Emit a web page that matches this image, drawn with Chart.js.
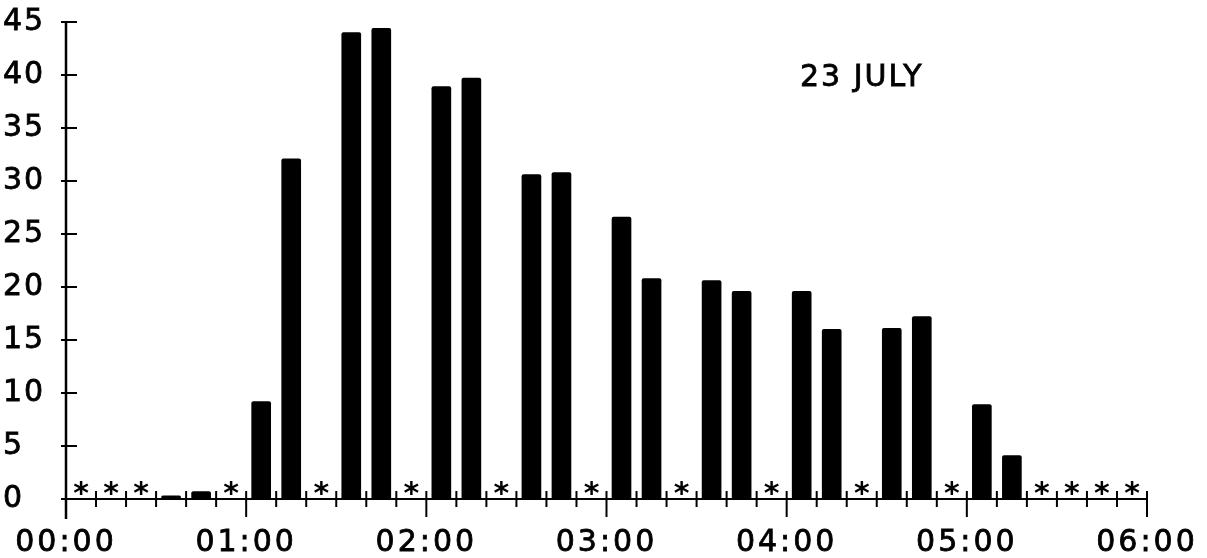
<!DOCTYPE html>
<html>
<head>
<meta charset="utf-8">
<script src="https://cdn.jsdelivr.net/npm/chart.js@4/dist/chart.umd.min.js"></script>
<style>
  html, body { margin: 0; padding: 0; background: #fff; }
  #wrap { width: 1207px; height: 558px; }
</style>
</head>
<body>
<div id="wrap"><canvas id="c" width="1207" height="558"></canvas></div>
<script>
// Ten-minute counting intervals, by start minute after midnight
const intervalStarts = [
  0, 10, 20, 30, 40, 50,
  60, 70, 80, 90, 100, 110,
  120, 130, 140, 150, 160, 170,
  180, 190, 200, 210, 220, 230,
  240, 250, 260, 270, 280, 290,
  300, 310, 320, 330, 340, 350
];
// Count per interval; null = interval not sampled (marked with *)
const counts = [
  null, null, null, 0.3, 0.7, null,
  9.2, 32.1, null, 44.0, 44.4, null,
  38.9, 39.7, null, 30.6, 30.8, null,
  26.6, 20.8, null, 20.6, 19.6, null,
  19.6, 16.0, null, 16.1, 17.2, null,
  8.9, 4.1, null, null, null, null
];
const hourLabels = ['00:00', '01:00', '02:00', '03:00', '04:00', '05:00', '06:00'];
const yTicks = [0, 5, 10, 15, 20, 25, 30, 35, 40, 45];
const dateLabel = '23 JULY';

const FONT = 'DejaVu Sans';
const INK = '#000';

// Axis lines and tick marks that cross the axes, plus the "*" markers and date text
const axesPlugin = {
  id: 'crossAxes',
  beforeDraw(chart) {
    // spacing for the hour labels (drawn before the bars)
    chart.ctx.letterSpacing = '3px';
  },
  afterDatasetsDraw(chart) {
    const ctx = chart.ctx;
    const xs = chart.scales.x, ys = chart.scales.y;
    const x0 = xs.getPixelForValue(0);
    const x1 = xs.getPixelForValue(360);
    const y0 = ys.getPixelForValue(0);
    const yTop = ys.getPixelForValue(45);
    ctx.save();
    ctx.strokeStyle = INK;
    ctx.lineCap = 'butt';

    // vertical axis
    ctx.lineWidth = 2.5;
    ctx.beginPath();
    ctx.moveTo(x0, yTop - 1);
    ctx.lineTo(x0, y0 + 20);
    ctx.stroke();

    // value ticks
    ctx.lineWidth = 2;
    yTicks.forEach(v => {
      const y = ys.getPixelForValue(v);
      ctx.beginPath();
      ctx.moveTo(x0 - 5, y);
      ctx.lineTo(x0 + 11, y);
      ctx.stroke();
    });

    // baseline
    ctx.lineWidth = 2.2;
    ctx.beginPath();
    ctx.moveTo(x0, y0);
    ctx.lineTo(x1, y0);
    ctx.stroke();

    // interval ticks, longer on the hours
    ctx.lineWidth = 2;
    intervalStarts.concat([360]).forEach(m => {
      if (m === 0) return;
      const x = xs.getPixelForValue(m);
      const hour = m % 60 === 0;
      ctx.beginPath();
      ctx.moveTo(x, y0 - 8);
      ctx.lineTo(x, y0 + (hour ? 18 : 8));
      ctx.stroke();
    });

    // "*" for unsampled intervals
    ctx.fillStyle = INK;
    ctx.font = 'bold 30px "' + FONT + '"';
    ctx.textAlign = 'center';
    ctx.textBaseline = 'alphabetic';
    ctx.letterSpacing = '0px';
    const m = ctx.measureText('*');
    const glyphMid = (m.actualBoundingBoxAscent - m.actualBoundingBoxDescent) / 2;
    counts.forEach((c, i) => {
      if (c !== null) return;
      const x = xs.getPixelForValue(intervalStarts[i] + 5);
      const y = ys.getPixelForValue(1);
      ctx.fillText('*', x, y + glyphMid);
    });

    // date
    ctx.font = '30px "' + FONT + '"';
    ctx.letterSpacing = '2px';
    ctx.strokeStyle = INK;
    ctx.lineWidth = 0.8;
    const dm = ctx.measureText('23');
    const capMid = (dm.actualBoundingBoxAscent - dm.actualBoundingBoxDescent) / 2;
    const dx = xs.getPixelForValue(265), dy = ys.getPixelForValue(40) + capMid;
    ctx.strokeText(dateLabel, dx, dy);
    ctx.fillText(dateLabel, dx, dy);
    ctx.restore();
    // spacing for the value labels (drawn after the bars)
    ctx.letterSpacing = '2px';
  }
};

const points = intervalStarts.map((s, i) => ({ x: s + 5, y: counts[i] }));

new Chart(document.getElementById('c'), {
  type: 'bar',
  data: {
    datasets: [{
      data: points,
      backgroundColor: INK,
      borderWidth: 0,
      barThickness: 19,
      borderRadius: 2,
      borderSkipped: 'bottom'
    }]
  },
  options: {
    responsive: false,
    animation: false,
    events: [],
    layout: { padding: { top: 22, right: 60, left: 3, bottom: 0 } },
    plugins: { legend: { display: false }, tooltip: { enabled: false } },
    scales: {
      x: {
        type: 'linear',
        min: 0,
        max: 360,
        offset: false,
        grid: { display: false, drawTicks: false },
        border: { display: false },
        afterBuildTicks(scale) {
          scale.ticks = hourLabels.map((_, h) => ({ value: h * 60 }));
        },
        ticks: {
          autoSkip: false,
          maxRotation: 0,
          padding: 26,
          color: INK,
          textStrokeColor: INK,
          textStrokeWidth: 0.8,
          z: 0,
          font: { family: FONT, size: 30 },
          callback: (v) => hourLabels[v / 60]
        },
        afterFit(scale) {
          scale.height = 59;
          scale.paddingLeft = 0;
          scale.paddingRight = 0;
        }
      },
      y: {
        min: 0,
        max: 45,
        grid: { display: false, drawTicks: false },
        border: { display: false },
        afterBuildTicks(scale) {
          scale.ticks = yTicks.map(v => ({ value: v }));
        },
        ticks: {
          crossAlign: 'far',
          padding: 13,
          color: INK,
          textStrokeColor: INK,
          textStrokeWidth: 0.8,
          z: 1,
          font: { family: FONT, size: 30 },
          callback: (v) => String(v)
        },
        afterFit(scale) {
          scale.width = 63;
          scale.paddingTop = 0;
          scale.paddingBottom = 0;
        }
      }
    }
  },
  plugins: [axesPlugin]
});
</script>
</body>
</html>
